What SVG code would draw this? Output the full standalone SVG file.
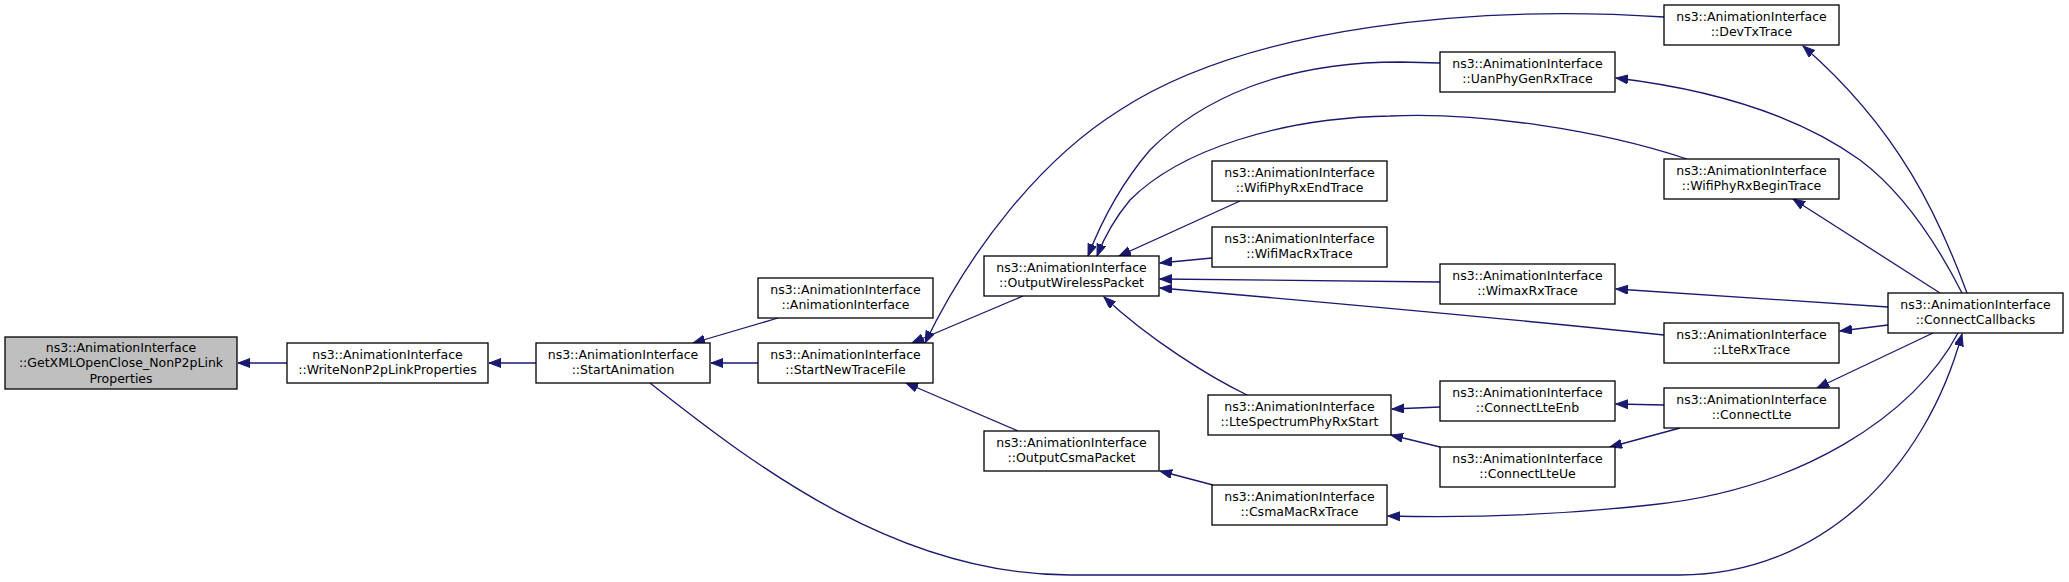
<svg xmlns="http://www.w3.org/2000/svg" width="2069" height="582" viewBox="0 0 2069 582">
<defs>
<style>
.n rect{fill:#ffffff;stroke:#000000;stroke-width:1.3}
.n.cur rect{fill:#bfbfbf}
.n text{font-family:"DejaVu Sans","Liberation Sans",sans-serif;font-size:12.5px;fill:#000000;text-anchor:middle}
.e path{fill:none;stroke:#191970;stroke-width:1.3;marker-end:url(#ah)}
</style>
<marker id="ah" markerUnits="userSpaceOnUse" markerWidth="13" markerHeight="10" refX="12" refY="4.5" orient="auto">
<path d="M0,0 L12,4.5 L0,9 z" fill="#191970" stroke="#191970" stroke-width="1"/>
</marker>
</defs>
<rect x="0" y="0" width="2069" height="582" fill="#ffffff"/>
<g id="connectors" class="e">
<path d="M287,363 L238,363"/>
<path d="M536,363 L489,363"/>
<path d="M778,318 L693,343"/>
<path d="M758,363 L711,363"/>
<path d="M650,383 C760,470 900,575 1070,575 L1680,575 C1820,575 1925,470 1962,334"/>
<path d="M1023,296 L912,343"/>
<path d="M1664,17 C1480,5 1250,25 1120,110 C1040,160 970,250 925,343"/>
<path d="M1018,431 L906,383"/>
<path d="M1440,63 L1400,62 C1280,62 1200,100 1150,150 C1120,185 1100,225 1088,256"/>
<path d="M1687,159 C1600,130 1480,112 1390,116 C1280,118 1180,150 1130,200 C1115,218 1104,238 1097,256"/>
<path d="M1240,201 L1119,256"/>
<path d="M1212,258 L1160,263"/>
<path d="M1440,282 L1160,279"/>
<path d="M1664,335 C1500,318 1300,300 1160,288"/>
<path d="M1247,395 C1210,377 1150,340 1104,297"/>
<path d="M1888,307 L1616,289"/>
<path d="M1888,325 L1840,331"/>
<path d="M1967,293 C1940,220 1900,130 1803,46"/>
<path d="M1962,293 C1935,240 1900,190 1860,160 C1790,110 1700,88 1616,78"/>
<path d="M1940,293 L1793,199"/>
<path d="M1933,333 L1817,388"/>
<path d="M1664,405 L1616,404"/>
<path d="M1680,428 L1610,447"/>
<path d="M1440,407 L1392,409"/>
<path d="M1440,447 L1391,435"/>
<path d="M1213,485 L1160,471"/>
<path d="M1958,333 C1915,415 1800,490 1650,505 C1560,515 1470,518 1388,516"/>
</g>
<g id="node_getxml" class="n cur"><rect x="5" y="337" width="232" height="52"/><text x="121" y="351.5">ns3::AnimationInterface</text><text x="121" y="367">::GetXMLOpenClose_NonP2pLink</text><text x="121" y="382.5">Properties</text></g>
<g id="node_writenonp2p" class="n"><rect x="287" y="343" width="201" height="40"/><text x="387.5" y="358.5">ns3::AnimationInterface</text><text x="387.5" y="374">::WriteNonP2pLinkProperties</text></g>
<g id="node_startanimation" class="n"><rect x="536" y="343" width="174" height="40"/><text x="623" y="358.5">ns3::AnimationInterface</text><text x="623" y="374">::StartAnimation</text></g>
<g id="node_animationinterface" class="n"><rect x="758" y="278" width="175" height="40"/><text x="845.5" y="293.5">ns3::AnimationInterface</text><text x="845.5" y="309">::AnimationInterface</text></g>
<g id="node_startnewtracefile" class="n"><rect x="758" y="343" width="175" height="40"/><text x="845.5" y="358.5">ns3::AnimationInterface</text><text x="845.5" y="374">::StartNewTraceFile</text></g>
<g id="node_outputwirelesspacket" class="n"><rect x="984" y="256" width="175" height="40"/><text x="1071.5" y="271.5">ns3::AnimationInterface</text><text x="1071.5" y="287">::OutputWirelessPacket</text></g>
<g id="node_outputcsmapacket" class="n"><rect x="984" y="431" width="175" height="40"/><text x="1071.5" y="446.5">ns3::AnimationInterface</text><text x="1071.5" y="462">::OutputCsmaPacket</text></g>
<g id="node_wifiphyrxendtrace" class="n"><rect x="1212" y="161" width="175" height="40"/><text x="1299.5" y="176.5">ns3::AnimationInterface</text><text x="1299.5" y="192">::WifiPhyRxEndTrace</text></g>
<g id="node_wifimacrxtrace" class="n"><rect x="1212" y="227" width="175" height="40"/><text x="1299.5" y="242.5">ns3::AnimationInterface</text><text x="1299.5" y="258">::WifiMacRxTrace</text></g>
<g id="node_ltespectrumphyrxstart" class="n"><rect x="1208" y="395" width="183" height="40"/><text x="1299.5" y="410.5">ns3::AnimationInterface</text><text x="1299.5" y="426">::LteSpectrumPhyRxStart</text></g>
<g id="node_csmamacrxtrace" class="n"><rect x="1212" y="485" width="175" height="40"/><text x="1299.5" y="500.5">ns3::AnimationInterface</text><text x="1299.5" y="516">::CsmaMacRxTrace</text></g>
<g id="node_uanphygenrxtrace" class="n"><rect x="1440" y="52" width="175" height="40"/><text x="1527.5" y="67.5">ns3::AnimationInterface</text><text x="1527.5" y="83">::UanPhyGenRxTrace</text></g>
<g id="node_wimaxrxtrace" class="n"><rect x="1440" y="264" width="175" height="40"/><text x="1527.5" y="279.5">ns3::AnimationInterface</text><text x="1527.5" y="295">::WimaxRxTrace</text></g>
<g id="node_connectlteenb" class="n"><rect x="1440" y="381" width="175" height="40"/><text x="1527.5" y="396.5">ns3::AnimationInterface</text><text x="1527.5" y="412">::ConnectLteEnb</text></g>
<g id="node_connectlteue" class="n"><rect x="1440" y="447" width="175" height="40"/><text x="1527.5" y="462.5">ns3::AnimationInterface</text><text x="1527.5" y="478">::ConnectLteUe</text></g>
<g id="node_devtxtrace" class="n"><rect x="1664" y="5" width="175" height="40"/><text x="1751.5" y="20.5">ns3::AnimationInterface</text><text x="1751.5" y="36">::DevTxTrace</text></g>
<g id="node_wifiphyrxbegintrace" class="n"><rect x="1664" y="159" width="175" height="40"/><text x="1751.5" y="174.5">ns3::AnimationInterface</text><text x="1751.5" y="190">::WifiPhyRxBeginTrace</text></g>
<g id="node_ltertrace" class="n"><rect x="1664" y="323" width="175" height="40"/><text x="1751.5" y="338.5">ns3::AnimationInterface</text><text x="1751.5" y="354">::LteRxTrace</text></g>
<g id="node_connectlte" class="n"><rect x="1664" y="388" width="175" height="40"/><text x="1751.5" y="403.5">ns3::AnimationInterface</text><text x="1751.5" y="419">::ConnectLte</text></g>
<g id="node_connectcallbacks" class="n"><rect x="1888" y="293" width="175" height="40"/><text x="1975.5" y="308.5">ns3::AnimationInterface</text><text x="1975.5" y="324">::ConnectCallbacks</text></g>
</svg>
